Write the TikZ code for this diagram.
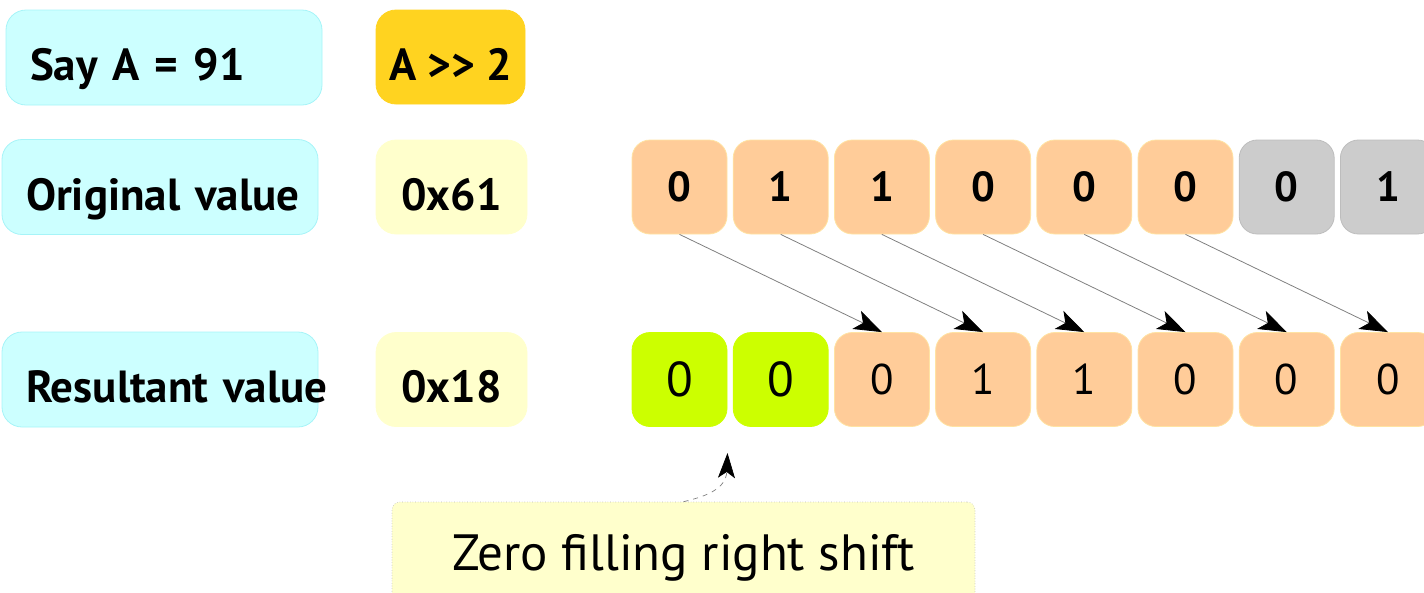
\documentclass[tikz,border=0pt]{standalone}
\usepackage{fontspec}
\setmainfont{PT Sans}
\usetikzlibrary{arrows.meta}
\definecolor{cyanfill}{HTML}{CCFFFF}
\definecolor{cyanline}{HTML}{A6F4F8}
\definecolor{goldfill}{HTML}{FFD320}
\definecolor{paleyel}{HTML}{FFFFCC}
\definecolor{bitor}{HTML}{FFCC99}
\definecolor{bitorline}{HTML}{FFE3A3}
\definecolor{bitgray}{HTML}{CCCCCC}
\definecolor{bitgrayline}{HTML}{BDBDBD}
\definecolor{bitgreen}{HTML}{CCFF00}
\definecolor{arrline}{HTML}{808080}
\begin{document}
\begin{tikzpicture}[x=1pt,y=-1pt,
  labelbox/.style={rounded corners=20pt, fill=cyanfill, draw=cyanline, line width=0.8pt,
    minimum width=316pt, minimum height=95pt, inner xsep=24pt, inner ysep=0pt,
    text width=268pt, align=left, font=\fontsize{45}{45}\selectfont\bfseries,
    text height=46pt, text depth=0pt},
  valbox/.style={rounded corners=20pt, fill=paleyel, draw=paleyel, line width=0.8pt,
    minimum width=151pt, minimum height=94pt, inner sep=0pt,
    font=\fontsize{45}{45}\selectfont\bfseries, text height=46pt, text depth=0pt},
  opbox/.style={valbox, fill=goldfill, draw=goldfill, minimum width=149pt},
  bitbox/.style={rounded corners=18pt, line width=0.8pt, minimum width=95pt,
    minimum height=94pt, inner sep=0pt},
  bitorig/.style={bitbox, fill=bitor, draw=bitorline, font=\fontsize{42}{42}\selectfont\bfseries},
  bitdrop/.style={bitbox, fill=bitgray, draw=bitgrayline, font=\fontsize{42}{42}\selectfont\bfseries},
  bitres/.style={bitbox, fill=bitor, draw=bitorline, font=\fontsize{43}{43}\selectfont},
  bitfill/.style={bitbox, fill=bitgreen, draw=bitgreen, font=\fontsize{49}{49}\selectfont},
  notebox/.style={rounded corners=8pt, fill=paleyel, draw=gray!55, dotted, line width=0.6pt,
    minimum width=583pt, minimum height=103pt, inner sep=0pt,
    font=\fontsize{51}{51}\selectfont, text height=34pt, text depth=0pt},
  shiftarrow/.style={draw=arrline, line width=0.8pt,
    -{Stealth[length=28pt, width=20pt, inset=7pt, color=black]}},
  fillarrow/.style={draw=arrline, line width=0.7pt, dash pattern=on 5pt off 5pt,
    -{Stealth[length=25pt, width=17pt, inset=6pt, color=black]}}
]
\useasboundingbox (0,0) rectangle (1424,592);

% left column
\node[labelbox] (say) at (164,57.5) {\mbox{Say A = 91}};
\node[opbox] (op) at (450.5,57) {A {>}{>} 2};
\node[labelbox] (orig) at (160,187) {\mbox{Original value}};
\node[valbox] (hexa) at (451.5,187) {0x61};
\node[labelbox] (res) at (160,379.5) {\mbox{Resultant value}};
\node[valbox] (hexb) at (451.5,379.5) {0x18};

% original bits
\node[bitorig] (t1) at (679.5,187) {0};
\node[bitorig] (t2) at (780.7,187) {1};
\node[bitorig] (t3) at (881.9,187) {1};
\node[bitorig] (t4) at (983.1,187) {0};
\node[bitorig] (t5) at (1084.3,187) {0};
\node[bitorig] (t6) at (1185.5,187) {0};
\node[bitdrop] (t7) at (1286.7,187) {0};
\node[bitdrop] (t8) at (1387.9,187) {1};

% result bits
\node[bitfill] (b1) at (679.5,379.5) {0};
\node[bitfill] (b2) at (780.7,379.5) {0};
\node[bitres] (b3) at (881.9,379.5) {0};
\node[bitres] (b4) at (983.1,379.5) {1};
\node[bitres] (b5) at (1084.3,379.5) {1};
\node[bitres] (b6) at (1185.5,379.5) {0};
\node[bitres] (b7) at (1286.7,379.5) {0};
\node[bitres] (b8) at (1387.9,379.5) {0};

% shift arrows
\foreach \s/\d in {1/3,2/4,3/5,4/6,5/7,6/8}
  \draw[shiftarrow] (t\s.south) -- (b\d.north);

% note
\node[notebox] (note) at (683.5,553.5) {Zero filling right shift};
\coordinate (fillend) at (727.5,453);
\draw[fillarrow] (note.north) .. controls (703,497) and (726,490) .. (fillend);
\end{tikzpicture}
\end{document}
